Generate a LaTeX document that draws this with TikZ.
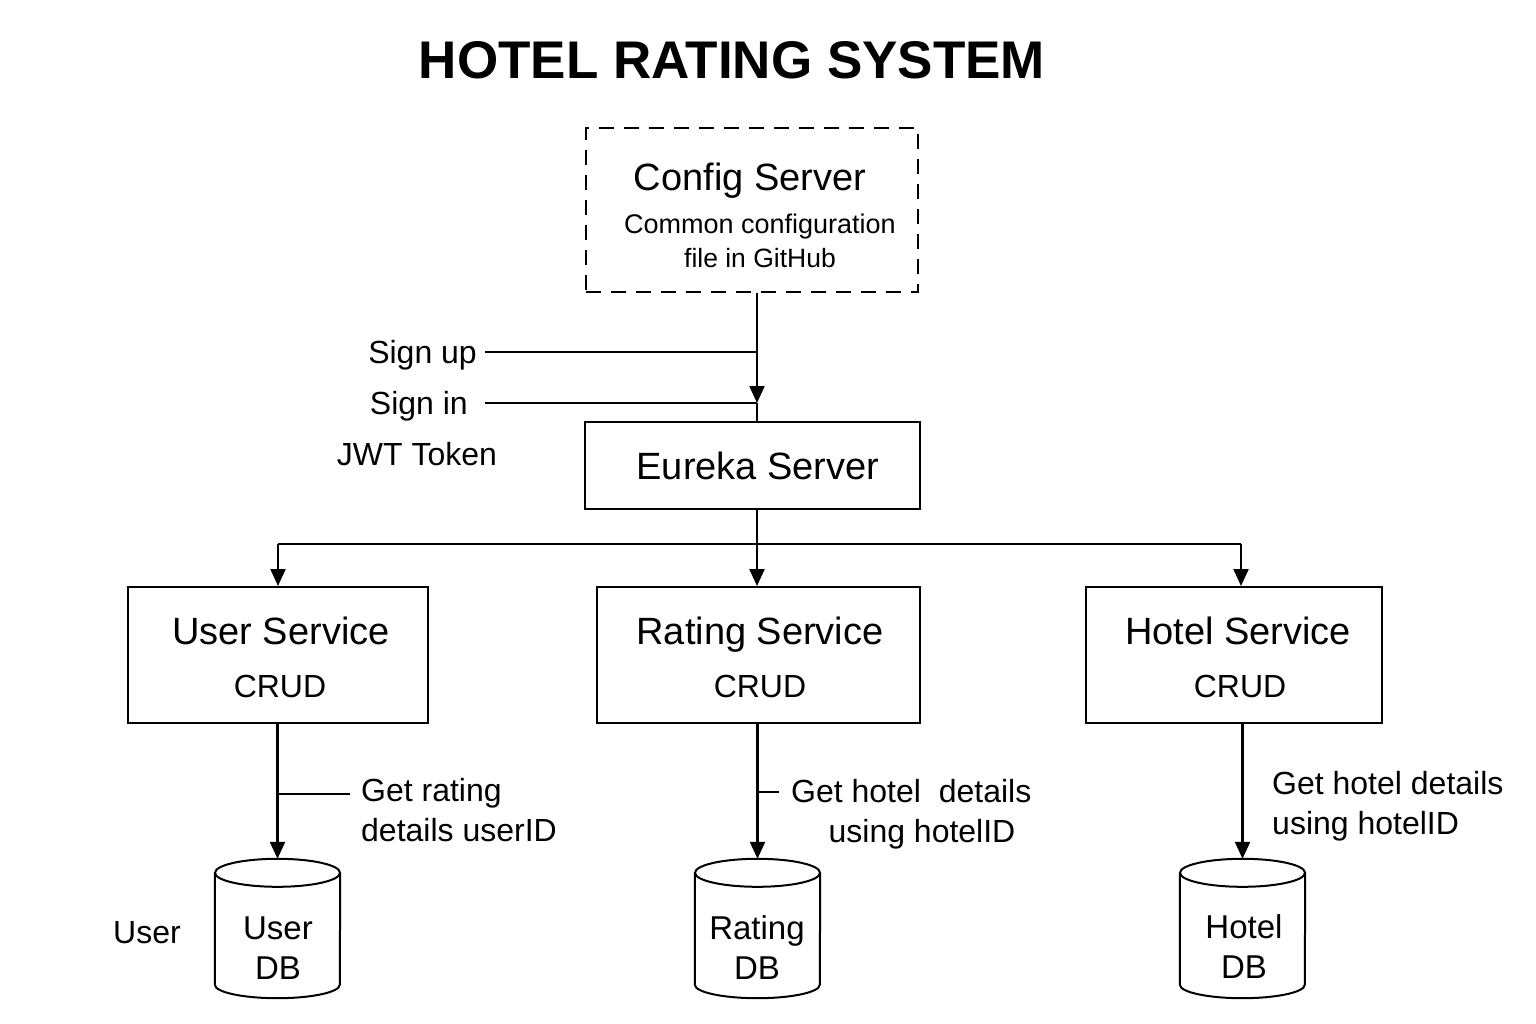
\documentclass[tikz,border=0pt]{standalone}
\usepackage{fontspec}
\setmainfont{Liberation Sans}
\usetikzlibrary{arrows.meta,calc}
\newcommand\fs[1]{\fontsize{#1}{#1}\selectfont}
\tikzset{
  box/.style={draw, line width=2pt, inner sep=0pt},
  tx/.style={inner sep=0pt, text height=0.72*#1, text depth=0pt, font=\fs{#1}},
  txt/.style={tx=32},
  big/.style={tx=38},
  conn/.style={line width=2.2pt},
  arr/.style={line width=2.2pt, -{Triangle[length=17pt,width=15pt]}},
  cyl/.style={line width=2pt},
  dbnode/.style={inner sep=0pt, minimum width=125pt, minimum height=139pt},
}
\begin{document}
\begin{tikzpicture}[x=1pt,y=1pt]
\useasboundingbox[fill=white] (0,0) rectangle (1536,-1024);
% title
\node[inner sep=0pt, font=\fs{53}\bfseries] (title) at (732,-60) {HOTEL RATING SYSTEM};
% config server
\node[box, dashed, dash pattern=on 15pt off 10pt, minimum width=332pt, minimum height=164pt] (config) at (752,-210) {};
\node[big] (cfgt) at (750,-177) {Config Server};
\node[tx=27] (cfg1) at (760,-224) {Common configuration};
\node[tx=26.5] (cfg2) at (760,-258) {file in GitHub};
% eureka
\node[box, minimum width=335pt, minimum height=87pt] (eureka) at (752.5,-465.5) {};
\node[big] (eut) at (758,-466) {Eureka Server};
% sign labels
\coordinate (j0) at (757,-352);
\coordinate (j1) at (757,-403);
\node[txt, anchor=east, inner xsep=8pt] (signup) at (485,-352) {Sign up};
\node[txt, anchor=east, inner xsep=17pt] (signin) at (485,-403) {Sign in};
\node[txt] (jwt) at (417,-454) {JWT Token};
\draw[arr] (config.south -| j1) -- (j1);
\draw[conn] (j1) -- (eureka.north -| j1);
\draw[conn] (signup.east) -- (j0);
\draw[conn] (signin.east) -- (j1);
% services
\node[box, minimum width=300pt, minimum height=136pt] (user) at (278,-655) {};
\node[box, minimum width=323pt, minimum height=136pt] (rating) at (758.5,-655) {};
\node[box, minimum width=296pt, minimum height=136pt] (hotel) at (1234,-655) {};
\node[big] (ut1) at (281,-631) {User Service};
\node[txt] (ut2) at (280,-686) {CRUD};
\node[big] (rt1) at (760,-631) {Rating Service};
\node[txt] (rt2) at (760,-686) {CRUD};
\node[big] (ht1) at (1238,-631) {Hotel Service};
\node[txt] (ht2) at (1240,-686) {CRUD};
% bus
\coordinate (bus) at (757,-544);
\coordinate (hx) at (1241,-544);
\draw[conn] (eureka.south -| bus) -- (bus);
\draw[conn] (bus -| user.north) -- (hx);
\draw[arr] (bus -| user.north) -- (user.north);
\draw[arr] (bus) -- (bus |- rating.north);
\draw[arr] (hx) -- (hx |- hotel.north);
% databases
\node[dbnode] (udb) at (277.5,-928.5) {};
\node[dbnode] (rdb) at (757.5,-928.5) {};
\node[dbnode] (hdb) at (1242.5,-928.5) {};
\foreach \d in {udb,rdb,hdb}{
  \draw[cyl] ([yshift=-14pt]\d.north west) -- ([yshift=13.5pt]\d.south west)
     arc[start angle=180,end angle=360,x radius=62.5pt,y radius=13.5pt]
     -- ([yshift=-14pt]\d.north east);
  \draw[cyl] ([yshift=-14pt]\d.north) ellipse[x radius=62.5pt,y radius=14pt];
}
\node[tx=33] (udb1) at (278,-928) {User};
\node[tx=33] (udb2) at (278,-968) {DB};
\node[tx=33] (rdb1) at (757,-928) {Rating};
\node[tx=33] (rdb2) at (757,-968) {DB};
\node[tx=33] (hdb1) at (1244,-927) {Hotel};
\node[tx=33] (hdb2) at (1244,-967) {DB};
\node[txt] (userlbl) at (147,-932) {User};
% arrows to DB
\draw[arr] (user.south -| udb.north) -- (udb.north);
\draw[arr] (rating.south -| rdb.north) -- (rdb.north);
\draw[arr] (hotel.south -| hdb.north) -- (hdb.north);
% ticks and labels
\coordinate (ut) at (350,-794);
\coordinate (rt) at (779,-792);
\draw[conn] (ut -| udb.north) -- (ut);
\draw[conn] (rt -| rdb.north) -- (rt);
\node[txt, anchor=west] (ul1) at (361,-790) {Get rating};
\node[txt, anchor=west] (ul2) at (361,-830) {details userID};
\node[txt, anchor=west] (rl1) at (791,-791) {Get hotel~ details};
\node[txt] (rl2) at (922,-831) {using hotelID};
\node[txt, anchor=west] (hl1) at (1272,-783) {Get hotel details};
\node[txt, anchor=west] (hl2) at (1272,-823) {using hotelID};
\end{tikzpicture}
\end{document}
